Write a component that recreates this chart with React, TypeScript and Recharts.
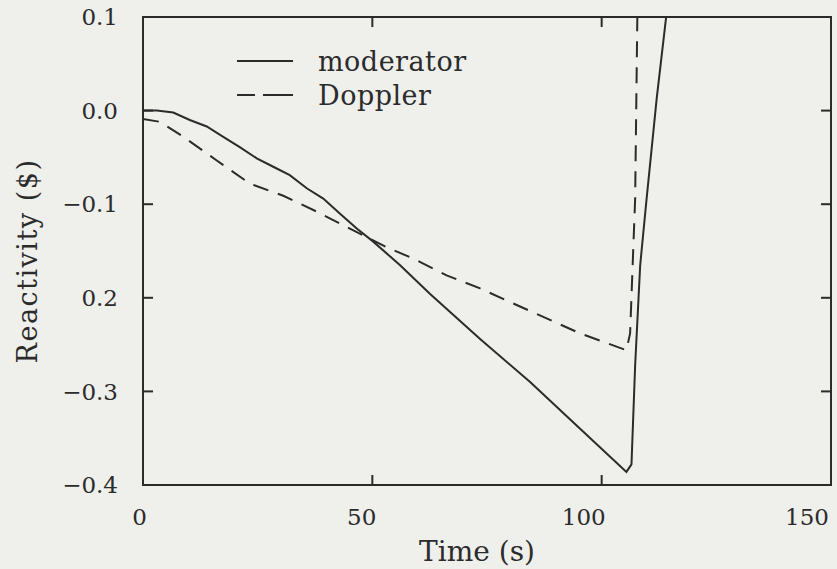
import React from "react";
import {
  LineChart,
  Line,
  XAxis,
  YAxis,
  Legend,
  Label,
  ReferenceArea,
} from "recharts";

// moderator reactivity ($) vs time (s)
const moderatorTime = [
  0, 3, 6.6, 10.2, 13.9, 17.5, 21.1, 24.8, 28.4, 32, 35.7, 39.3, 42.9, 46.6,
  50.2, 56, 62.6, 73.5, 84.4, 95.3, 105.4, 106.5, 107.3, 108.4, 109.8, 112,
  114.2,
];
const moderatorValue = [
  0, 0, -0.002, -0.01, -0.017, -0.028, -0.039, -0.051, -0.06, -0.069, -0.083,
  -0.094, -0.11, -0.126, -0.14, -0.165, -0.196, -0.244, -0.29, -0.34, -0.386,
  -0.378, -0.272, -0.165, -0.094, 0.013, 0.106,
];

// Doppler reactivity ($) vs time (s)
const dopplerTime = [
  0, 3.7, 8.8, 16, 23.3, 30.6, 37.9, 45.1, 53.1, 58.9, 66.2, 73.5, 80.7, 88,
  95.3, 105.4, 106.2, 107.3, 107.8,
];
const dopplerValue = [
  -0.009, -0.012, -0.028, -0.053, -0.078, -0.091, -0.108, -0.126, -0.146,
  -0.158, -0.176, -0.19, -0.206, -0.222, -0.238, -0.256, -0.238, -0.094, 0.11,
];

const xTicks = [0, 50, 100, 150];
const yTicks = [0.1, 0.0, -0.1, -0.2, -0.3, -0.4];
// labels as printed (the minus on 0.2 is missing in the original)
const yTickLabels = ["0.1", "0.0", "\u22120.1", "0.2", "\u22120.3", "\u22120.4"];

const moderatorData = moderatorTime.map((t, i) => ({ t, v: moderatorValue[i] }));
const dopplerData = dopplerTime.map((t, i) => ({ t, v: dopplerValue[i] }));

const INK = "#2b2b2b";
const BG = "#efefec";
const FONT = "'DejaVu Serif', serif";
const DASH = "16 10";

// frame geometry (chart is 837x569)
const W = 837;
const H = 569;
const TOP = 17;
const RIGHT_M = 6;
const X_AXIS_H = 84;
const Y_AXIS_W = 143;
const PLOT_TOP = TOP;
const PLOT_BOTTOM = H - X_AXIS_H;
const PLOT_LEFT = Y_AXIS_W;
const PLOT_RIGHT = W - RIGHT_M;
const TICK = 10;

// bottom tick: label right-aligned at the tick, inward tick marks top and bottom
function XTick(props: any) {
  const { x, y, payload } = props;
  const cx = payload.coordinate;
  return (
    <g>
      <line x1={cx} y1={PLOT_BOTTOM} x2={cx} y2={PLOT_BOTTOM - TICK} stroke={INK} strokeWidth={2} />
      <line x1={cx} y1={PLOT_TOP} x2={cx} y2={PLOT_TOP + TICK} stroke={INK} strokeWidth={2} />
      <text
        x={x + 4}
        y={y}
        dy="0.71em"
        textAnchor="end"
        fill={INK}
        fontSize={23}
        fontFamily={FONT}
      >
        {payload.value}
      </text>
    </g>
  );
}

function YTick(props: any) {
  const { x, y, payload } = props;
  const cy = payload.coordinate;
  const label = yTickLabels[yTicks.indexOf(payload.value)] ?? String(payload.value);
  return (
    <g>
      <line x1={PLOT_LEFT} y1={cy} x2={PLOT_LEFT + TICK} y2={cy} stroke={INK} strokeWidth={2} />
      <line x1={PLOT_RIGHT} y1={cy} x2={PLOT_RIGHT - TICK} y2={cy} stroke={INK} strokeWidth={2} />
      <text
        x={x}
        y={y}
        dy="0.355em"
        textAnchor="end"
        fill={INK}
        fontSize={23}
        fontFamily={FONT}
      >
        {label}
      </text>
    </g>
  );
}

function LegendBox() {
  const rows = [
    { name: "moderator", dash: undefined as string | undefined },
    { name: "Doppler", dash: "18 8 14 0" },
  ];
  return (
    <div style={{ fontFamily: FONT }}>
      {rows.map((r) => (
        <div
          key={r.name}
          style={{ display: "flex", alignItems: "center", height: 34 }}
        >
          <svg width={58} height={10} style={{ marginRight: 23 }}>
            <line
              x1={0}
              y1={5}
              x2={56}
              y2={5}
              stroke={INK}
              strokeWidth={2}
              strokeDasharray={r.dash}
            />
          </svg>
          <span style={{ fontSize: 27, color: INK, letterSpacing: 0.5 }}>
            {r.name}
          </span>
        </div>
      ))}
    </div>
  );
}

export default function App() {
  return (
    <div
      style={{
        position: "absolute",
        left: 0,
        top: 0,
        width: W,
        height: H,
        background: BG,
      }}
    >
      <LineChart
        width={W}
        height={H}
        margin={{ top: TOP, right: RIGHT_M, bottom: 0, left: 0 }}
      >
        <XAxis
          dataKey="t"
          type="number"
          domain={[0, 150]}
          ticks={xTicks}
          allowDataOverflow
          height={X_AXIS_H}
          tickLine={false}
          tickSize={0}
          tickMargin={24}
          stroke={INK}
          strokeWidth={2}
          tick={<XTick />}
        >
          <Label
            content={({ viewBox }: any) => (
              <text
                x={viewBox.x + viewBox.width / 2 - 10}
                y={viewBox.y + 76}
                textAnchor="middle"
                fill={INK}
                fontSize={28}
                fontFamily={FONT}
              >
                Time (s)
              </text>
            )}
          />
        </XAxis>
        <YAxis
          dataKey="v"
          type="number"
          domain={[-0.4, 0.1]}
          ticks={yTicks}
          allowDataOverflow
          width={Y_AXIS_W}
          tickLine={false}
          tickSize={0}
          tickMargin={25}
          stroke={INK}
          strokeWidth={2}
          tick={<YTick />}
        >
          <Label
            content={({ viewBox }: any) => {
              const cx = 27;
              const cy = viewBox.y + viewBox.height / 2 + 10;
              return (
                <text
                  x={cx}
                  y={cy}
                  transform={`rotate(-90 ${cx} ${cy})`}
                  textAnchor="middle"
                  dominantBaseline="central"
                  fill={INK}
                  fontSize={27}
                  fontFamily={FONT}
                  letterSpacing={1.5}
                >
                  Reactivity ($)
                </text>
              );
            }}
          />
        </YAxis>
        <ReferenceArea
          x1={0}
          x2={150}
          y1={-0.4}
          y2={0.1}
          fill="none"
          stroke={INK}
          strokeWidth={2}
          ifOverflow="visible"
        />
        <Legend
          verticalAlign="middle"
          align="center"
          layout="vertical"
          wrapperStyle={{ left: 237, top: 44, width: 300 }}
          content={() => <LegendBox />}
        />
        <Line
          data={moderatorData}
          dataKey="v"
          name="moderator"
          type="linear"
          stroke={INK}
          strokeWidth={2}
          dot={false}
          isAnimationActive={false}
        />
        <Line
          data={dopplerData}
          dataKey="v"
          name="Doppler"
          type="linear"
          stroke={INK}
          strokeWidth={2}
          strokeDasharray={DASH}
          dot={false}
          isAnimationActive={false}
        />
      </LineChart>
    </div>
  );
}
